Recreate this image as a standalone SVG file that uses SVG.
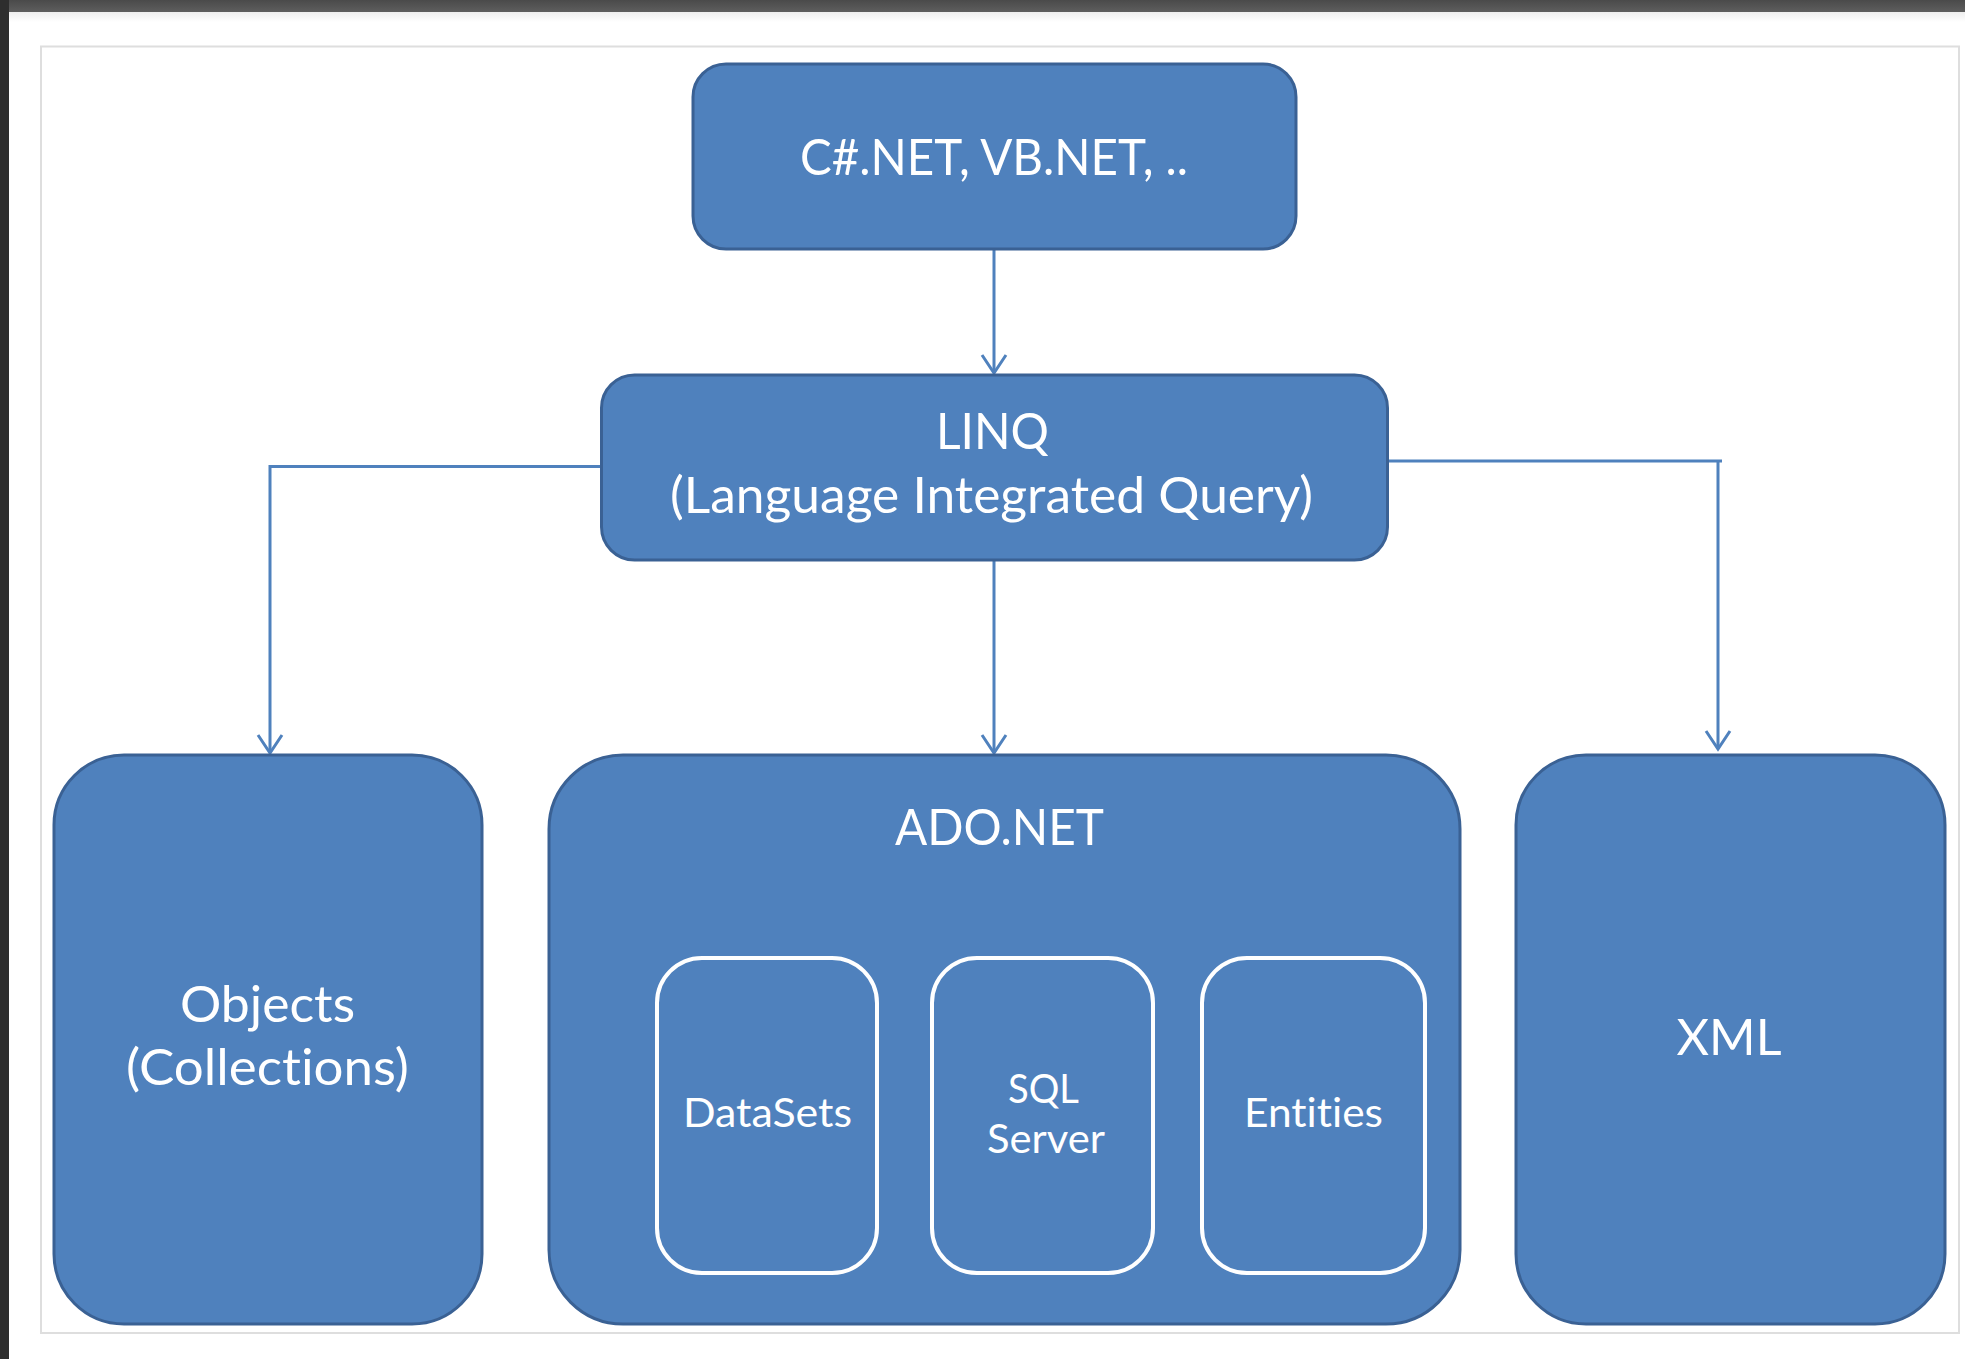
<svg xmlns="http://www.w3.org/2000/svg" width="1965" height="1359" viewBox="0 0 1965 1359">
  <style>
    .node { fill: #4F81BD; stroke: #3A6194; stroke-width: 3; }
    .inner { fill: none; stroke: #FFFFFF; stroke-width: 4; }
    .lbl { font-family: Lato, "Liberation Sans", sans-serif; fill: #FFFFFF; text-anchor: middle; font-size: 50px; font-variant-ligatures: none; }
    .small { font-size: 40px; }
    .conn { fill: none; stroke: #4F81BD; stroke-width: 3; }
  </style>
  <defs>
    <marker id="arr" markerUnits="userSpaceOnUse" markerWidth="22" markerHeight="28" refX="18" refY="12" orient="auto" overflow="visible">
      <path d="M0,0 L18,12 L0,24" fill="none" stroke="#4F81BD" stroke-width="3"/>
    </marker>
    <linearGradient id="topband" x1="0" y1="0" x2="0" y2="1">
      <stop offset="0" stop-color="#4a4a4a"/>
      <stop offset="1" stop-color="#5e5e5e"/>
    </linearGradient>
    <linearGradient id="shade" x1="0" y1="0" x2="0" y2="1">
      <stop offset="0" stop-color="#eeeeee"/>
      <stop offset="1" stop-color="#ffffff"/>
    </linearGradient>
  </defs>

  <!-- background -->
  <rect x="0" y="0" width="1965" height="1359" fill="#FFFFFF"/>
  <rect x="0" y="12" width="1965" height="10" fill="url(#shade)"/>
  <rect x="0" y="0" width="1965" height="12" fill="url(#topband)"/>
  <rect x="0" y="0" width="9" height="1359" fill="#2e2e2e"/>
  <rect x="41" y="46.5" width="1918" height="1286.5" fill="#FFFFFF" stroke="#DEDEDE" stroke-width="2"/>

  <!-- connectors -->
  <g id="connectors">
    <path class="conn" d="M994,249 V373" marker-end="url(#arr)"/>
    <path class="conn" d="M602,466.5 H270 V753" marker-end="url(#arr)"/>
    <path class="conn" d="M994,560 V753" marker-end="url(#arr)"/>
    <path class="conn" d="M1388,461 H1722 M1718,461 V749" marker-end="url(#arr)"/>
  </g>

  <!-- nodes -->
  <g id="lang">
    <rect class="node" x="693" y="64" width="603" height="185" rx="33"/>
    <text class="lbl" x="994" y="175" textLength="388" lengthAdjust="spacingAndGlyphs">C#.NET, VB.NET, ..</text>
  </g>
  <g id="linq">
    <rect class="node" x="601.5" y="375" width="786" height="185" rx="33"/>
    <text class="lbl" x="992.5" y="449" textLength="113" lengthAdjust="spacingAndGlyphs">LINQ</text>
    <text class="lbl" x="991.5" y="513" textLength="643" lengthAdjust="spacingAndGlyphs">(Language Integrated Query)</text>
  </g>
  <g id="objects">
    <rect class="node" x="54" y="755" width="428" height="569" rx="70"/>
    <text class="lbl" x="267.5" y="1022" textLength="175" lengthAdjust="spacingAndGlyphs">Objects</text>
    <text class="lbl" x="267.5" y="1085" textLength="283" lengthAdjust="spacingAndGlyphs">(Collections)</text>
  </g>
  <g id="adonet">
    <rect class="node" x="549" y="755" width="911" height="569" rx="74"/>
    <text class="lbl" x="999.5" y="845" textLength="209" lengthAdjust="spacingAndGlyphs">ADO.NET</text>
  </g>
  <g id="datasets">
    <rect class="inner" x="657" y="958" width="220" height="315" rx="45"/>
    <text class="lbl small" x="767.5" y="1127" textLength="169" lengthAdjust="spacingAndGlyphs">DataSets</text>
  </g>
  <g id="sqlserver">
    <rect class="inner" x="932" y="958" width="221" height="315" rx="45"/>
    <text class="lbl small" x="1043.5" y="1103" textLength="71" lengthAdjust="spacingAndGlyphs">SQL</text>
    <text class="lbl small" x="1046" y="1153" textLength="118" lengthAdjust="spacingAndGlyphs">Server</text>
  </g>
  <g id="entities">
    <rect class="inner" x="1202" y="958" width="223" height="315" rx="45"/>
    <text class="lbl small" x="1313.5" y="1127" textLength="139" lengthAdjust="spacingAndGlyphs">Entities</text>
  </g>
  <g id="xml">
    <rect class="node" x="1516" y="755" width="429" height="569" rx="70"/>
    <text class="lbl" x="1729" y="1055" textLength="105" lengthAdjust="spacingAndGlyphs">XML</text>
  </g>
</svg>
